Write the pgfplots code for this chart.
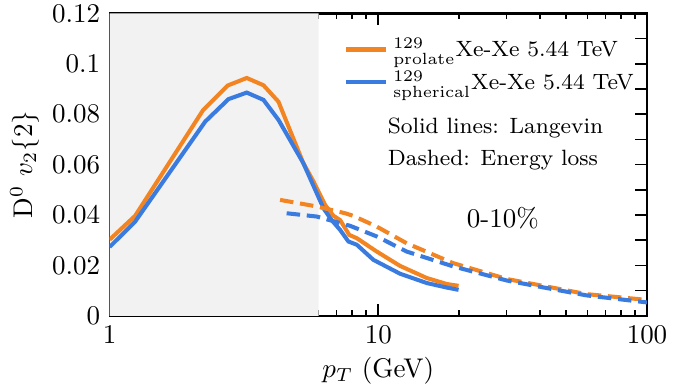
\documentclass[border=0pt]{standalone}
\usepackage{pgfplots}
\pgfplotsset{compat=1.18}
\definecolor{myorange}{RGB}{242,133,34}
\definecolor{myblue}{RGB}{58,123,223}
\begin{document}
\begin{tikzpicture}
\begin{axis}[
  scale only axis,
  width=199.1pt, height=112pt,
  xmode=log, xmin=1, xmax=100,
  ymin=0, ymax=0.12,
  xtick={1,10,100}, xticklabels={1,10,100},
  ytick={0,0.01,...,0.1201},
  yticklabels={0,,0.02,,0.04,,0.06,,0.08,,0.1,,0.12},
  tick align=inside,
  major tick length=4.4pt, minor tick length=2pt,
  tick style={black, line width=0.6pt},
  axis line style={line width=0.8pt},
  xlabel={$p_T$ (GeV)},
  ylabel={D$^0$ $v_2\{2\}$},
  xlabel style={yshift=2pt},
  ylabel style={yshift=-2pt},
  legend style={at={(0.435,0.955)}, anchor=north west, draw=none, fill=none,
    row sep=0pt, font=\fontsize{8.2pt}{9.8pt}\selectfont,
    inner xsep=0pt, nodes={inner xsep=2pt}},
  legend cell align=left,
  legend image code/.code={\draw[#1, line width=1.5pt] (0pt,0pt) -- (14.8pt,0pt);},
]
\addplot[fill=gray!10, draw=none, forget plot] coordinates {(1,0) (6,0) (6,0.12) (1,0.12)} \closedcycle;

\addplot[myorange, line width=1.5pt] coordinates {
(1,0.0302) (1.245,0.0397) (2.23,0.0817) (2.75,0.0914) (3.24,0.0944) (3.74,0.0915)
(4.25,0.085) (5.26,0.0606) (5.74,0.0533) (6.34,0.044) (6.81,0.0397) (7.21,0.038)
(7.8,0.0321) (8.32,0.0308) (9.87,0.0255) (12.05,0.0198) (15.15,0.015) (18.0,0.0126) (19.9,0.0119)};
\addlegendentry{$^{129}_{\mathrm{prolate}}$Xe-Xe 5.44 TeV}

\addplot[myblue, line width=1.5pt] coordinates {
(1,0.0273) (1.245,0.0374) (2.27,0.0771) (2.77,0.086) (3.24,0.0886) (3.74,0.0857)
(4.25,0.0778) (4.77,0.0685) (5.26,0.0606) (6.25,0.0427) (6.7,0.038) (7.21,0.0341)
(7.74,0.0295) (8.32,0.0282) (9.59,0.0222) (12.05,0.0167) (15.15,0.013) (18.0,0.0112) (19.9,0.0103)};
\addlegendentry{$^{129}_{\mathrm{spherical}}$Xe-Xe 5.44 TeV}

\addplot[myorange, line width=1.5pt, dash pattern=on 5pt off 2.5pt, forget plot] coordinates {
(4.31,0.046) (5.9,0.0434) (7.53,0.0407) (8.06,0.0397) (9.87,0.0354) (12.75,0.0288)
(19.0,0.0209) (30.1,0.0146) (42.4,0.0116) (59.6,0.0086) (100,0.0063)};

\addplot[myblue, line width=1.5pt, dash pattern=on 5pt off 2.5pt, forget plot] coordinates {
(4.56,0.0407) (5.9,0.0394) (7.86,0.0357) (9.87,0.0315) (12.75,0.0255)
(19.0,0.0196) (30.1,0.014) (42.4,0.011) (59.6,0.0081) (100,0.0053)};

\node[anchor=west, font=\fontsize{8.2pt}{9.8pt}\selectfont] at (rel axis cs:0.5,0.621) {Solid lines: Langevin};
\node[anchor=west, font=\fontsize{8.2pt}{9.8pt}\selectfont] at (rel axis cs:0.5,0.516) {Dashed: Energy loss};
\node at (rel axis cs:0.732,0.324) {0-10\%};
\end{axis}
\pgfresetboundingbox
\path ([xshift=-40.6pt,yshift=-26.3pt]current axis.south west) rectangle ([xshift=18.9pt,yshift=5pt]current axis.north east);
\end{tikzpicture}
\end{document}
